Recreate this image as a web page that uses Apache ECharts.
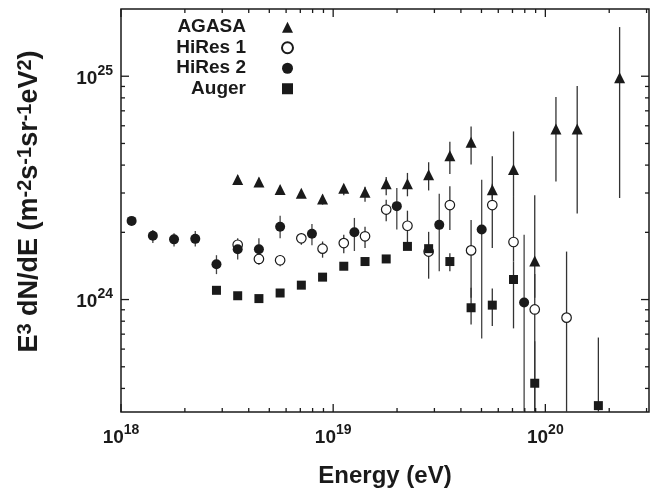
<!DOCTYPE html>
<html><head><meta charset="utf-8">
<script src="https://cdn.jsdelivr.net/npm/echarts@6.0.0/dist/echarts.min.js"></script>
<style>html,body{margin:0;padding:0;background:#fff}#c{width:652px;height:493px}</style>
</head><body><div id="c"></div>
<script>
// ---- data (energies in eV, flux E^3 dN/dE in m^-2 s^-1 sr^-1 eV^2) ----
const agasaE    = [3.548e18, 4.467e18, 5.623e18, 7.079e18, 8.913e18, 1.122e19, 1.413e19, 1.778e19, 2.239e19, 2.818e19, 3.548e19, 4.467e19, 5.623e19, 7.079e19, 8.913e19, 1.122e20, 1.413e20, 2.239e20];
const agasaFlux = [3.45e24, 3.36e24, 3.11e24, 2.99e24, 2.82e24, 3.15e24, 3.02e24, 3.30e24, 3.30e24, 3.62e24, 4.41e24, 5.06e24, 3.10e24, 3.82e24, 1.49e24, 5.80e24, 5.80e24, 9.84e24];
const agasaHi   = [3.60e24, 3.51e24, 3.23e24, 3.10e24, 2.95e24, 3.27e24, 3.20e24, 3.54e24, 3.69e24, 4.12e24, 5.09e24, 5.96e24, 4.38e24, 5.66e24, 2.93e24, 8.07e24, 9.03e24, 1.66e25];
const agasaLo   = [3.30e24, 3.20e24, 2.98e24, 2.85e24, 2.66e24, 2.93e24, 2.74e24, 2.93e24, 2.90e24, 3.08e24, 3.65e24, 4.02e24, 2.83e24, 2.88e24, 1.02e24, 3.38e24, 2.43e24, 2.85e24];

const hires1E    = [3.548e18, 4.467e18, 5.623e18, 7.079e18, 8.913e18, 1.122e19, 1.413e19, 1.778e19, 2.239e19, 2.818e19, 3.548e19, 4.467e19, 5.623e19, 7.079e19, 8.913e19, 1.259e20];
const hires1Flux = [1.76e24, 1.52e24, 1.50e24, 1.88e24, 1.69e24, 1.79e24, 1.92e24, 2.53e24, 2.14e24, 1.64e24, 2.65e24, 1.66e24, 2.65e24, 1.81e24, 9.03e23, 8.30e23];
const hires1Hi   = [1.83e24, 1.58e24, 1.58e24, 1.98e24, 1.82e24, 1.95e24, 2.12e24, 2.80e24, 2.50e24, 2.01e24, 3.22e24, 2.27e24, 3.30e24, 2.88e24, 1.30e24, 1.64e24];
const hires1Lo   = [1.69e24, 1.43e24, 1.41e24, 1.76e24, 1.54e24, 1.61e24, 1.70e24, 2.24e24, 1.79e24, 1.24e24, 2.05e24, 1.02e24, 1.70e24, 1.48e24, 1.0e23, 1.0e23];

const hires2E    = [1.122e18, 1.413e18, 1.778e18, 2.239e18, 2.818e18, 3.548e18, 4.467e18, 5.623e18, 7.943e18, 1.259e19, 1.995e19, 3.162e19, 5.012e19, 7.943e19];
const hires2Flux = [2.25e24, 1.93e24, 1.86e24, 1.87e24, 1.44e24, 1.68e24, 1.68e24, 2.12e24, 1.97e24, 2.00e24, 2.62e24, 2.16e24, 2.06e24, 9.70e23];
const hires2Hi   = [2.34e24, 2.05e24, 1.98e24, 2.03e24, 1.58e24, 1.88e24, 1.88e24, 2.37e24, 2.18e24, 2.32e24, 3.16e24, 2.98e24, 3.44e24, 1.95e24];
const hires2Lo   = [2.17e24, 1.79e24, 1.73e24, 1.73e24, 1.30e24, 1.51e24, 1.53e24, 1.88e24, 1.75e24, 1.65e24, 2.06e24, 1.34e24, 6.69e23, 1.0e23];

const augerE    = [2.818e18, 3.548e18, 4.467e18, 5.623e18, 7.079e18, 8.913e18, 1.122e19, 1.413e19, 1.778e19, 2.239e19, 2.818e19, 3.548e19, 4.467e19, 5.623e19, 7.079e19, 8.913e19, 1.778e20];
const augerFlux = [1.10e24, 1.04e24, 1.01e24, 1.07e24, 1.16e24, 1.26e24, 1.41e24, 1.48e24, 1.52e24, 1.73e24, 1.69e24, 1.48e24, 9.19e23, 9.44e23, 1.23e24, 4.22e23, 3.35e23];
const augerHi   = [1.12e24, 1.06e24, 1.03e24, 1.09e24, 1.18e24, 1.28e24, 1.43e24, 1.51e24, 1.56e24, 1.78e24, 1.75e24, 1.61e24, 1.13e24, 1.12e24, 1.48e24, 6.5e23, 6.76e23];
const augerLo   = [1.08e24, 1.02e24, 0.99e24, 1.05e24, 1.14e24, 1.24e24, 1.39e24, 1.45e24, 1.48e24, 1.68e24, 1.63e24, 1.34e24, 7.74e23, 7.62e23, 7.43e23, 1.0e23, 1.0e23];

const seriesNames = ['AGASA', 'HiRes 1', 'HiRes 2', 'Auger'];

// axis ranges and tick values
const xMin = 1e18, xMax = 3.08e20;
const yMin = 3.137e23, yMax = 2.0e25;
const xMajorTicks = [1e18, 1e19, 1e20];
const xMinorTicks = [2e18, 3e18, 4e18, 5e18, 6e18, 7e18, 8e18, 9e18, 2e19, 3e19, 4e19, 5e19, 6e19, 7e19, 8e19, 9e19, 2e20, 3e20];
const yMajorTicks = [1e24, 1e25];
const yMinorTicks = [4e23, 5e23, 6e23, 7e23, 8e23, 9e23, 2e24, 3e24, 4e24, 5e24, 6e24, 7e24, 8e24, 9e24];

const FONT = "'Liberation Sans', Arial, Helvetica, sans-serif";
const INK = '#1a1a1a';

function pow10Label(v) {
  const e = Math.log10(v);
  const r = Math.round(e);
  if (Math.abs(e - r) > 1e-6) return '';
  return '{b|10}{s|' + r + '}';
}
const tickRich = {
  b: {fontSize: 19, fontWeight: 'bold', fontFamily: FONT, color: INK, lineHeight: 24, verticalAlign: 'bottom'},
  s: {fontSize: 14, fontWeight: 'bold', fontFamily: FONT, color: INK, lineHeight: 14, verticalAlign: 'top'}
};

function errSeries(E, lo, hi, color) {
  return {
    type: 'custom', silent: true, z: 2,
    data: E.map((e, i) => [e, lo[i], hi[i]]),
    encode: {x: 0, y: [1, 2]},
    renderItem: function (params, api) {
      const cs = params.coordSys;
      const a = api.coord([api.value(0), api.value(2)]);
      const b = api.coord([api.value(0), api.value(1)]);
      const clamp = v => Math.max(cs.y, Math.min(cs.y + cs.height, v));
      return {type: 'line', shape: {x1: a[0], y1: clamp(a[1]), x2: a[0], y2: clamp(b[1])},
              style: {stroke: color, lineWidth: 1.3}};
    }
  };
}

const tickSeries = {
  type: 'custom', silent: true, z: 10,
  data: [[1e19, 1e24]],
  encode: {x: 0, y: 1},
  renderItem: function (params, api) {
    const cs = params.coordSys;
    const kids = [];
    const st = {stroke: INK, lineWidth: 1.3};
    const top = cs.y, bot = cs.y + cs.height, lft = cs.x, rgt = cs.x + cs.width;
    function xt(v, len) {
      const x = api.coord([v, yMin])[0];
      kids.push({type: 'line', shape: {x1: x, y1: bot, x2: x, y2: bot - len}, style: st});
      kids.push({type: 'line', shape: {x1: x, y1: top, x2: x, y2: top + len}, style: st});
    }
    function yt(v, len) {
      const y = api.coord([xMin, v])[1];
      kids.push({type: 'line', shape: {x1: lft, y1: y, x2: lft + len, y2: y}, style: st});
      kids.push({type: 'line', shape: {x1: rgt, y1: y, x2: rgt - len, y2: y}, style: st});
    }
    xMajorTicks.forEach(v => xt(v, 8));
    xMinorTicks.forEach(v => xt(v, 4));
    yMajorTicks.forEach(v => yt(v, 8));
    yMinorTicks.forEach(v => yt(v, 4));
    return {type: 'group', children: kids};
  }
};

const chart = echarts.init(document.getElementById('c'), null, {renderer: 'canvas'});
chart.setOption({
  backgroundColor: '#fff',
  animation: false,
  grid: {left: 121, top: 9, width: 530, height: 406, show: true, borderColor: INK, borderWidth: 1.5, backgroundColor: 'transparent'},
  legend: {
    data: seriesNames,
    orient: 'vertical', align: 'right', right: 358, top: 17, padding: 0, itemGap: 0,
    itemWidth: 11, itemHeight: 11, selectedMode: false,
    textStyle: {fontSize: 19, fontWeight: 'bold', fontFamily: FONT, color: INK, lineHeight: 20.5, padding: [0, 31, 0, 0]}
  },
  xAxis: {
    type: 'log', logBase: 10, min: xMin, max: xMax,
    axisLine: {show: false}, axisTick: {show: false}, splitLine: {show: false}, minorTick: {show: false},
    axisLabel: {formatter: pow10Label, margin: 11, rich: tickRich, showMinLabel: true, showMaxLabel: true, hideOverlap: false},
    name: 'Energy (eV)', nameLocation: 'middle', nameGap: 52,
    nameTextStyle: {fontSize: 24, fontWeight: 'bold', fontFamily: FONT, color: INK}
  },
  yAxis: {
    type: 'log', logBase: 10, min: yMin, max: yMax,
    axisLine: {show: false}, axisTick: {show: false}, splitLine: {show: false}, minorTick: {show: false},
    axisLabel: {formatter: pow10Label, margin: 8, rich: tickRich, hideOverlap: false},
    name: 'E{s|3} dN/dE (m{s|-2}s{s|-1}sr{s|-1}eV{s|2})', nameLocation: 'middle', nameGap: 76, nameRotate: 90,
    nameTextStyle: {fontSize: 27, fontWeight: 'bold', fontFamily: FONT, color: INK, lineHeight: 30, padding: [0, 0, 0, 18],
      rich: {s: {fontSize: 20, fontWeight: 'bold', fontFamily: FONT, color: INK, verticalAlign: 'top', lineHeight: 20}}}
  },
  series: [
    errSeries(agasaE, agasaLo, agasaHi, '#333'),
    errSeries(hires1E, hires1Lo, hires1Hi, '#333'),
    errSeries(hires2E, hires2Lo, hires2Hi, '#444'),
    errSeries(augerE, augerLo, augerHi, '#333'),
    {name: 'AGASA', type: 'scatter', z: 5, symbol: 'triangle', symbolSize: 11,
     itemStyle: {color: INK, opacity: 1}, data: agasaE.map((e, i) => [e, agasaFlux[i]])},
    {name: 'HiRes 1', type: 'scatter', z: 5, symbol: 'circle', symbolSize: 9.5,
     itemStyle: {color: '#fff', borderColor: INK, borderWidth: 1.2, opacity: 1}, data: hires1E.map((e, i) => [e, hires1Flux[i]])},
    {name: 'HiRes 2', type: 'scatter', z: 5, symbol: 'circle', symbolSize: 10,
     itemStyle: {color: INK, opacity: 1}, data: hires2E.map((e, i) => [e, hires2Flux[i]])},
    {name: 'Auger', type: 'scatter', z: 5, symbol: 'rect', symbolSize: 9,
     itemStyle: {color: INK, opacity: 1}, data: augerE.map((e, i) => [e, augerFlux[i]])},
    tickSeries
  ]
});
</script></body></html>
